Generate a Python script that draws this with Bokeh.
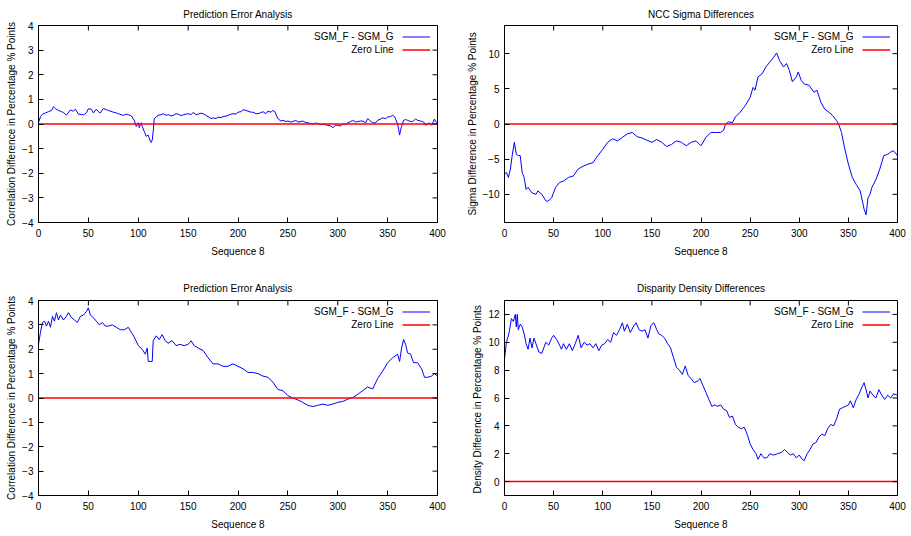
import math
from bokeh.plotting import figure
from bokeh.models import Range1d, FixedTicker, Legend, LegendItem, Label
from bokeh.layouts import column, row
from bokeh.embed import file_html
from bokeh.resources import INLINE

# ---------------- data ----------------
X_START, X_END = 0, 400
X_TICKS = [0, 50, 100, 150, 200, 250, 300, 350, 400]
ZERO_X = [0, 400]
ZERO_Y = [0, 0]
SERIES_NAME = "SGM_F - SGM_G"
ZERO_NAME = "Zero Line"
X_LABEL = "Sequence 8"

# Panel 1: Prediction Error Analysis (top)
pe1_x = [0, 2, 4, 7, 10, 13, 15, 17, 20, 23,
         25, 28, 32, 35, 37, 40, 43, 45, 48, 50,
         53, 55, 58, 60, 62, 65, 68, 70, 75, 78,
         80, 85, 88, 90, 93, 96, 98, 100, 101, 102,
         103, 104, 106, 108, 110, 112, 113, 114, 115, 116,
         118, 120, 123, 125, 128, 130, 133, 135, 138, 140,
         143, 145, 148, 150, 153, 155, 158, 160, 163, 165,
         168, 170, 173, 175, 178, 180, 183, 185, 188, 190,
         193, 195, 198, 200, 203, 205, 208, 210, 213, 215,
         218, 220, 223, 225, 228, 230, 233, 235, 237, 238,
         240, 243, 245, 248, 250, 253, 255, 258, 260, 263,
         265, 268, 270, 273, 275, 278, 280, 283, 285, 288,
         290, 293, 295, 298, 300, 303, 305, 308, 310, 313,
         315, 318, 320, 323, 325, 328, 330, 332, 335, 338,
         340, 343, 345, 348, 350, 353, 355, 357, 358, 360,
         361, 362, 363, 364, 366, 368, 370, 373, 375, 378,
         380, 383, 385, 387, 388, 390, 392, 394, 395, 397,
         398, 400]
pe1_y = [0.05, 0.30, 0.40, 0.45, 0.50, 0.55, 0.70, 0.62, 0.55, 0.50,
         0.47, 0.36, 0.57, 0.52, 0.60, 0.40, 0.38, 0.37, 0.45, 0.62,
         0.60, 0.45, 0.60, 0.50, 0.45, 0.63, 0.58, 0.55, 0.48, 0.45,
         0.42, 0.35, 0.40, 0.38, 0.33, 0.15, -0.10, 0.05, -0.15, -0.05,
         0.05, -0.10, -0.30, -0.50, -0.45, -0.70, -0.75, -0.65, -0.30, 0.20,
         0.30, 0.35, 0.38, 0.42, 0.35, 0.38, 0.33, 0.35, 0.42, 0.40,
         0.34, 0.37, 0.40, 0.42, 0.38, 0.47, 0.38, 0.40, 0.44, 0.42,
         0.35, 0.30, 0.22, 0.25, 0.22, 0.28, 0.26, 0.30, 0.32, 0.35,
         0.40, 0.42, 0.40, 0.48, 0.50, 0.58, 0.55, 0.52, 0.48, 0.48,
         0.42, 0.42, 0.46, 0.50, 0.42, 0.52, 0.48, 0.55, 0.50, 0.40,
         0.22, 0.12, 0.15, 0.10, 0.12, 0.08, 0.10, 0.15, 0.08, 0.10,
         0.12, 0.06, 0.05, 0.02, 0.00, 0.04, 0.02, -0.03, 0.00, -0.04,
         -0.05, -0.08, -0.15, -0.05, -0.05, -0.08, 0.00, -0.02, 0.05, 0.10,
         0.15, 0.08, 0.10, 0.12, 0.12, 0.05, 0.22, 0.15, 0.05, 0.05,
         0.15, 0.20, 0.25, 0.22, 0.28, 0.30, 0.35, 0.30, 0.20, 0.00,
         -0.20, -0.45, -0.25, -0.10, 0.15, 0.18, 0.15, 0.10, 0.10, 0.20,
         0.15, 0.12, 0.10, 0.05, -0.05, 0.00, 0.05, -0.05, 0.02, 0.20,
         0.10, 0.05]

# Panel 2: NCC Sigma Differences
ncc_x = [0, 2, 4, 6, 8, 10, 12, 14, 16, 18,
         20, 22, 24, 28, 32, 34, 38, 42, 44, 48,
         52, 56, 60, 65, 70, 75, 80, 85, 90, 95,
         100, 105, 110, 115, 120, 125, 130, 135, 140, 145,
         150, 155, 160, 165, 170, 175, 180, 185, 190, 195,
         200, 205, 210, 215, 220, 223, 225, 228, 232, 235,
         240, 245, 250, 253, 255, 258, 262, 266, 270, 274,
         277, 280, 284, 287, 290, 293, 297, 299, 302, 305,
         310, 315, 318, 322, 326, 330, 334, 338, 340, 343,
         346, 350, 354, 358, 362, 366, 368, 370, 372, 374,
         378, 382, 386, 390, 393, 396, 400]
ncc_y = [-7.1, -6.9, -7.6, -6.4, -4.3, -2.6, -4.3, -4.5, -4.5, -6.9,
         -7.6, -9.3, -9.0, -9.8, -10.0, -9.5, -10.0, -10.9, -11.0, -10.5,
         -9.0, -8.3, -8.1, -7.6, -7.4, -6.4, -6.0, -5.7, -5.5, -4.5,
         -3.6, -2.6, -2.1, -2.4, -1.9, -1.4, -1.2, -1.8, -2.0, -2.3,
         -2.6, -2.2, -2.6, -3.2, -2.9, -2.4, -2.6, -3.1, -2.6, -2.4,
         -3.1, -1.9, -1.2, -1.2, -1.2, -0.9, 0.0, 0.3, 0.2, 1.0,
         1.7, 2.6, 3.8, 5.2, 4.8, 6.7, 7.1, 8.1, 8.8, 9.5,
         10.1, 9.0, 8.1, 8.6, 7.6, 6.0, 6.7, 7.4, 6.2, 5.7,
         5.5, 4.5, 4.8, 3.1, 2.1, 1.7, 1.2, 0.5, 0.0, -1.2,
         -3.3, -5.7, -7.6, -8.6, -9.5, -12.1, -12.9, -10.5, -10.0, -9.0,
         -7.9, -6.4, -4.5, -4.3, -4.0, -3.8, -4.5]

# Panel 3: Prediction Error Analysis (bottom)
pe2_x = [0, 2, 4, 6, 8, 10, 12, 14, 16, 18,
         20, 22, 25, 28, 30, 33, 36, 39, 42, 45,
         48, 50, 52, 55, 58, 61, 64, 67, 70, 74,
         78, 82, 86, 90, 93, 96, 100, 104, 107, 109,
         110, 114, 115, 118, 121, 124, 127, 130, 134, 138,
         142, 146, 150, 153, 156, 160, 165, 170, 175, 180,
         185, 190, 195, 200, 205, 210, 215, 220, 225, 230,
         235, 240, 245, 250, 255, 260, 265, 270, 275, 280,
         285, 290, 295, 300, 305, 310, 315, 320, 325, 330,
         335, 340, 345, 350, 355, 360, 362, 364, 366, 368,
         370, 373, 376, 380, 384, 387, 390, 394, 397, 400]
pe2_y = [2.2, 2.7, 3.1, 3.15, 2.95, 3.15, 2.9, 3.35, 3.15, 3.5,
         3.2, 3.4, 3.2, 3.35, 3.5, 3.3, 3.2, 3.1, 3.35, 3.4,
         3.55, 3.7, 3.4, 3.3, 3.15, 3.0, 3.1, 2.95, 2.95, 3.0,
         2.9, 2.8, 2.8, 2.9, 2.7, 2.5, 2.15, 2.0, 1.8, 2.05,
         1.5, 1.5, 2.35, 2.55, 2.4, 2.6, 2.35, 2.25, 2.35, 2.15,
         2.2, 2.15, 2.2, 2.35, 2.15, 2.05, 1.95, 1.65, 1.4, 1.4,
         1.3, 1.3, 1.4, 1.3, 1.2, 1.05, 1.05, 1.0, 0.9, 0.85,
         0.65, 0.35, 0.3, 0.1, 0.0, -0.08, -0.18, -0.3, -0.35, -0.3,
         -0.25, -0.3, -0.25, -0.18, -0.14, -0.05, 0.02, 0.15, 0.3, 0.45,
         0.37, 0.8, 1.1, 1.45, 1.65, 1.8, 1.5, 2.05, 2.4, 2.2,
         1.85, 1.8, 1.45, 1.45, 1.2, 0.85, 0.85, 0.9, 1.0, 0.9]

# Panel 4: Disparity Density Differences
dd_x = [0, 2, 4, 5, 7, 9, 11, 12, 13, 14,
        16, 18, 20, 22, 24, 26, 28, 30, 32, 35,
        38, 40, 42, 45, 48, 50, 53, 56, 58, 60,
        63, 66, 69, 72, 75, 78, 81, 84, 87, 90,
        93, 96, 99, 102, 105, 108, 111, 114, 117, 120,
        122, 125, 128, 131, 134, 137, 140, 143, 146, 149,
        152, 155, 157, 160, 163, 166, 169, 172, 175, 178,
        181, 184, 187, 190, 193, 196, 199, 202, 205, 208,
        211, 214, 217, 220, 223, 226, 229, 232, 235, 238,
        241, 244, 247, 250, 253, 256, 258, 261, 264, 267,
        270, 274, 278, 282, 285, 288, 291, 294, 297, 300,
        303, 305, 308, 311, 314, 317, 320, 323, 326, 329,
        332, 335, 338, 341, 344, 347, 350, 352, 355, 358,
        361, 364, 366, 368, 370, 372, 375, 378, 381, 384,
        387, 390, 393, 396, 400]
dd_y = [8.8, 10.0, 10.5, 10.8, 11.7, 11.5, 12.0, 11.1, 12.0, 10.9,
        11.3, 11.1, 10.6, 9.9, 9.5, 10.3, 9.6, 10.3, 9.9, 9.3,
        9.2, 9.6, 10.0, 9.8, 10.3, 10.5, 10.2, 9.8, 9.5, 9.9,
        9.5, 9.9, 9.4, 9.9, 10.5, 9.6, 10.0, 9.8, 9.9, 9.6,
        9.9, 9.4, 9.8, 9.9, 10.2, 10.0, 10.7, 10.5, 10.9, 11.4,
        10.8, 11.3, 10.7, 11.1, 11.4, 10.9, 10.8, 10.9, 10.3, 11.2,
        11.4, 10.9, 10.6, 10.5, 10.3, 9.9, 9.6, 8.9, 8.2, 8.0,
        7.7, 8.3, 7.6, 7.4, 7.1, 7.2, 7.4, 6.9, 6.4, 5.9,
        5.4, 5.5, 5.4, 5.5, 5.2, 5.1, 4.6, 4.7, 4.1, 3.9,
        3.8, 3.9, 3.4, 2.7, 2.3, 2.0, 1.6, 2.0, 1.7, 1.7,
        2.0, 1.9, 2.0, 2.1, 2.3, 2.1, 1.9, 2.0, 1.7, 1.9,
        1.6, 1.5, 2.0, 2.3, 2.7, 2.8, 3.2, 3.4, 3.3, 3.8,
        4.1, 4.0, 4.5, 5.2, 5.3, 5.4, 5.5, 5.8, 5.3, 5.9,
        6.3, 6.8, 7.1, 6.6, 6.0, 6.5, 6.2, 6.0, 6.6, 6.2,
        5.9, 6.2, 6.0, 6.3, 6.2]

FONT = "Liberation Sans"
FS = "10px"


def make_panel(title, ylabel, xs, ys, yrange, yticks, width, height,
               mb_left, mb_right, mb_top, mb_bottom, title_standoff):
    y_lo, y_hi = yrange
    p = figure(width=width, height=height,
               x_range=Range1d(X_START, X_END), y_range=Range1d(y_lo, y_hi),
               output_backend="svg", toolbar_location=None,
               min_border_left=mb_left, min_border_right=mb_right,
               min_border_top=mb_top, min_border_bottom=mb_bottom,
               background_fill_color="white", border_fill_color="white")
    p.title.text = title
    p.title.align = "center"
    p.title.text_font = FONT
    p.title.text_font_size = FS
    p.title.text_font_style = "normal"
    p.title.text_color = "#000000"
    p.title.standoff = title_standoff
    p.grid.visible = False
    p.outline_line_color = "black"
    p.outline_line_width = 1

    blue = p.line(xs, ys, line_color="#0000ff", line_width=1)
    red = p.line(ZERO_X, ZERO_Y, line_color="#ff0000", line_width=1.5)

    for ax, ticks in ((p.xaxis[0], X_TICKS), (p.yaxis[0], yticks)):
        ax.ticker = FixedTicker(ticks=ticks)
        ax.major_tick_in = 5
        ax.major_tick_out = 0
        ax.minor_tick_in = 0
        ax.minor_tick_out = 0
        ax.major_label_text_font = FONT
        ax.major_label_text_font_size = FS
        ax.major_label_text_color = "#000000"
        ax.axis_label_text_font = FONT
        ax.axis_label_text_font_size = FS
        ax.axis_label_text_font_style = "normal"
        ax.axis_label_text_color = "#000000"
        ax.axis_line_color = "black"
        ax.major_tick_line_color = "black"
    p.xaxis[0].axis_label = X_LABEL
    p.xaxis[0].major_label_standoff = 6
    p.xaxis[0].axis_label_standoff = 6
    p.yaxis[0].axis_label = ylabel
    p.yaxis[0].major_label_standoff = 5
    p.yaxis[0].axis_label_standoff = 2

    # mirrored inward tick marks on the top and right borders
    # (dash markers centred on the border; the half outside the frame is clipped)
    p.scatter(X_TICKS, [y_hi] * len(X_TICKS), marker="dash", size=10,
              angle=math.pi / 2, line_color="black", line_width=1)
    p.scatter([X_END] * len(yticks), yticks, marker="dash", size=10,
              line_color="black", line_width=1)

    legend = Legend(items=[LegendItem(label=" ", renderers=[blue]),
                           LegendItem(label=" ", renderers=[red])],
                    location="top_right", margin=5, padding=0, spacing=0,
                    glyph_width=28, glyph_height=13, label_height=13,
                    label_width=0, label_standoff=2, label_text_font_size=FS,
                    background_fill_alpha=0, border_line_alpha=0)
    p.add_layout(legend)

    for txt, yoff in ((SERIES_NAME, -11), (ZERO_NAME, -24)):
        p.add_layout(Label(x=X_END, y=y_hi, x_offset=-44, y_offset=yoff,
                           text=txt, text_align="right", text_baseline="middle",
                           text_font=FONT, text_font_size=FS,
                           text_color="#000000"))
    return p


p1 = make_panel("Prediction Error Analysis",
                "Correlation Difference in Percentage % Points",
                pe1_x, pe1_y, (-4, 4), [-4, -3, -2, -1, 0, 1, 2, 3, 4],
                455, 268, 38, 18, 25, 46, 12)
p2 = make_panel("NCC Sigma Differences",
                "Sigma Difference in Percentage % Points",
                ncc_x, ncc_y, (-14, 14), [-10, -5, 0, 5, 10],
                456, 268, 49, 14, 25, 46, 12)
p3 = make_panel("Prediction Error Analysis",
                "Correlation Difference in Percentage % Points",
                pe2_x, pe2_y, (-4, 4), [-4, -3, -2, -1, 0, 1, 2, 3, 4],
                455, 268, 38, 18, 32, 40, 14)
p4 = make_panel("Disparity Density Differences",
                "Density Difference in Percentage  % Points",
                dd_x, dd_y, (-1, 13), [0, 2, 4, 6, 8, 10, 12],
                456, 268, 49, 14, 32, 41, 14)

layout = column(row(p1, p2), row(p3, p4))
open("out.html", "w").write(file_html(layout, INLINE))
